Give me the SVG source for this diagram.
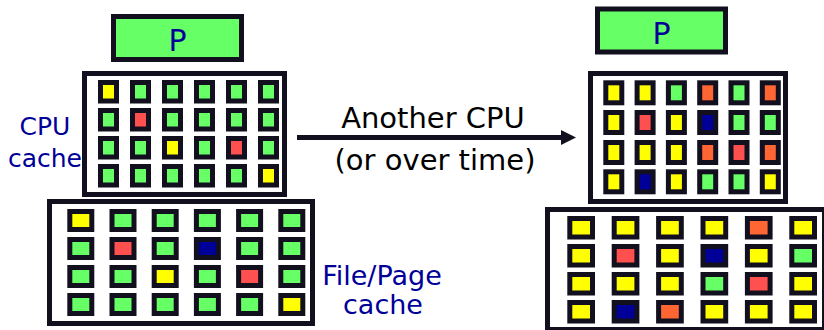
<svg xmlns="http://www.w3.org/2000/svg" width="824" height="330" viewBox="0 0 824 330">
<style>
.box{fill:#ffffff;stroke:#12101f;stroke-width:5}
.pbox{fill:#66ff66;stroke:#12101f;stroke-width:5}
.c{stroke:#12101f;stroke-width:5}
.g{fill:#66ff66}.y{fill:#ffff00}.r{fill:#ff5050}.o{fill:#ff6633}.b{fill:#000099}
.lbl{font-family:"DejaVu Sans","Liberation Sans",sans-serif;fill:#000099;text-anchor:middle}
.arr{font-family:"DejaVu Sans","Liberation Sans",sans-serif;fill:#000000;text-anchor:middle;font-size:29px}
</style>
<defs>
<marker id="ah" markerUnits="userSpaceOnUse" markerWidth="16" markerHeight="16" refX="0" refY="8" orient="auto" viewBox="0 0 16 16">
<polygon points="0,0.5 15,8 0,15.5" fill="#12101f"/>
</marker>
</defs>

<g id="p-left">
<rect class="pbox" x="113.5" y="16.5" width="128" height="43"/>
<text class="lbl" x="177.5" y="51" font-size="30">P</text>
</g>

<g id="cpu-cache-left">
<rect class="box" x="84.5" y="73.5" width="200" height="121"/>
<g class="c">
<rect class="y" x="100.5" y="82.5" width="16" height="18.5"/><rect class="g" x="132.5" y="82.5" width="16" height="18.5"/><rect class="g" x="164.5" y="82.5" width="16" height="18.5"/><rect class="g" x="196.5" y="82.5" width="16" height="18.5"/><rect class="g" x="228.5" y="82.5" width="16" height="18.5"/><rect class="g" x="260.5" y="82.5" width="16" height="18.5"/>
<rect class="g" x="100.5" y="110.5" width="16" height="18.5"/><rect class="r" x="132.5" y="110.5" width="16" height="18.5"/><rect class="g" x="164.5" y="110.5" width="16" height="18.5"/><rect class="g" x="196.5" y="110.5" width="16" height="18.5"/><rect class="g" x="228.5" y="110.5" width="16" height="18.5"/><rect class="g" x="260.5" y="110.5" width="16" height="18.5"/>
<rect class="g" x="100.5" y="138.5" width="16" height="18.5"/><rect class="g" x="132.5" y="138.5" width="16" height="18.5"/><rect class="y" x="164.5" y="138.5" width="16" height="18.5"/><rect class="g" x="196.5" y="138.5" width="16" height="18.5"/><rect class="r" x="228.5" y="138.5" width="16" height="18.5"/><rect class="g" x="260.5" y="138.5" width="16" height="18.5"/>
<rect class="g" x="100.5" y="166.5" width="16" height="18.5"/><rect class="g" x="132.5" y="166.5" width="16" height="18.5"/><rect class="g" x="164.5" y="166.5" width="16" height="18.5"/><rect class="g" x="196.5" y="166.5" width="16" height="18.5"/><rect class="g" x="228.5" y="166.5" width="16" height="18.5"/><rect class="y" x="260.5" y="166.5" width="16" height="18.5"/>
</g>
<text class="lbl" x="45" y="135" font-size="25">CPU</text>
<text class="lbl" x="45" y="167" font-size="25">cache</text>
</g>

<g id="file-cache-left">
<rect class="box" x="49.5" y="201.5" width="263" height="122"/>
<g class="c">
<rect class="y" x="69.8" y="211.5" width="22" height="18"/><rect class="g" x="112" y="211.5" width="22" height="18"/><rect class="g" x="154.2" y="211.5" width="22" height="18"/><rect class="g" x="196.4" y="211.5" width="22" height="18"/><rect class="g" x="238.6" y="211.5" width="22" height="18"/><rect class="g" x="280.8" y="211.5" width="22" height="18"/>
<rect class="g" x="69.8" y="239.5" width="22" height="18"/><rect class="r" x="112" y="239.5" width="22" height="18"/><rect class="g" x="154.2" y="239.5" width="22" height="18"/><rect class="b" x="196.4" y="239.5" width="22" height="18"/><rect class="g" x="238.6" y="239.5" width="22" height="18"/><rect class="g" x="280.8" y="239.5" width="22" height="18"/>
<rect class="g" x="69.8" y="267.5" width="22" height="18"/><rect class="g" x="112" y="267.5" width="22" height="18"/><rect class="y" x="154.2" y="267.5" width="22" height="18"/><rect class="g" x="196.4" y="267.5" width="22" height="18"/><rect class="r" x="238.6" y="267.5" width="22" height="18"/><rect class="g" x="280.8" y="267.5" width="22" height="18"/>
<rect class="g" x="69.8" y="295.5" width="22" height="18"/><rect class="g" x="112" y="295.5" width="22" height="18"/><rect class="g" x="154.2" y="295.5" width="22" height="18"/><rect class="g" x="196.4" y="295.5" width="22" height="18"/><rect class="g" x="238.6" y="295.5" width="22" height="18"/><rect class="y" x="280.8" y="295.5" width="22" height="18"/>
</g>
<text class="lbl" x="382" y="285" font-size="27">File/Page</text>
<text class="lbl" x="383" y="314" font-size="27">cache</text>
</g>

<g id="p-right">
<rect class="pbox" x="597.5" y="9" width="128" height="43"/>
<text class="lbl" x="661.5" y="44" font-size="30">P</text>
</g>

<g id="cpu-cache-right">
<rect class="box" x="590.5" y="73.5" width="195" height="128"/>
<g class="c">
<rect class="y" x="605.8" y="82.8" width="16" height="20"/><rect class="y" x="637.1" y="82.8" width="16" height="20"/><rect class="g" x="668.4" y="82.8" width="16" height="20"/><rect class="o" x="699.7" y="82.8" width="16" height="20"/><rect class="g" x="731" y="82.8" width="16" height="20"/><rect class="o" x="762.3" y="82.8" width="16" height="20"/>
<rect class="y" x="605.8" y="112.5" width="16" height="20"/><rect class="r" x="637.1" y="112.5" width="16" height="20"/><rect class="y" x="668.4" y="112.5" width="16" height="20"/><rect class="b" x="699.7" y="112.5" width="16" height="20"/><rect class="g" x="731" y="112.5" width="16" height="20"/><rect class="g" x="762.3" y="112.5" width="16" height="20"/>
<rect class="y" x="605.8" y="142.5" width="16" height="20"/><rect class="y" x="637.1" y="142.5" width="16" height="20"/><rect class="y" x="668.4" y="142.5" width="16" height="20"/><rect class="o" x="699.7" y="142.5" width="16" height="20"/><rect class="r" x="731" y="142.5" width="16" height="20"/><rect class="o" x="762.3" y="142.5" width="16" height="20"/>
<rect class="y" x="605.8" y="171.8" width="16" height="20"/><rect class="b" x="637.1" y="171.8" width="16" height="20"/><rect class="y" x="668.4" y="171.8" width="16" height="20"/><rect class="g" x="699.7" y="171.8" width="16" height="20"/><rect class="g" x="731" y="171.8" width="16" height="20"/><rect class="y" x="762.3" y="171.8" width="16" height="20"/>
</g>
</g>

<g id="file-cache-right">
<rect class="box" x="547.5" y="209.5" width="277" height="120"/>
<g class="c">
<rect class="y" x="569.8" y="218.5" width="22.7" height="18.5"/><rect class="y" x="614.2" y="218.5" width="22.7" height="18.5"/><rect class="y" x="658.6" y="218.5" width="22.7" height="18.5"/><rect class="y" x="703" y="218.5" width="22.7" height="18.5"/><rect class="o" x="747.4" y="218.5" width="22.7" height="18.5"/><rect class="y" x="791.8" y="218.5" width="22.7" height="18.5"/>
<rect class="y" x="569.8" y="246.5" width="22.7" height="18.5"/><rect class="r" x="614.2" y="246.5" width="22.7" height="18.5"/><rect class="y" x="658.6" y="246.5" width="22.7" height="18.5"/><rect class="b" x="703" y="246.5" width="22.7" height="18.5"/><rect class="y" x="747.4" y="246.5" width="22.7" height="18.5"/><rect class="g" x="791.8" y="246.5" width="22.7" height="18.5"/>
<rect class="y" x="569.8" y="274.5" width="22.7" height="18.5"/><rect class="y" x="614.2" y="274.5" width="22.7" height="18.5"/><rect class="y" x="658.6" y="274.5" width="22.7" height="18.5"/><rect class="g" x="703" y="274.5" width="22.7" height="18.5"/><rect class="r" x="747.4" y="274.5" width="22.7" height="18.5"/><rect class="y" x="791.8" y="274.5" width="22.7" height="18.5"/>
<rect class="y" x="569.8" y="302.5" width="22.7" height="18.5"/><rect class="b" x="614.2" y="302.5" width="22.7" height="18.5"/><rect class="o" x="658.6" y="302.5" width="22.7" height="18.5"/><rect class="y" x="703" y="302.5" width="22.7" height="18.5"/><rect class="y" x="747.4" y="302.5" width="22.7" height="18.5"/><rect class="y" x="791.8" y="302.5" width="22.7" height="18.5"/>
</g>
</g>

<g id="connectors">
<line x1="297" y1="137.5" x2="561" y2="137.5" stroke="#12101f" stroke-width="5" marker-end="url(#ah)"/>
<text class="arr" x="433" y="128">Another CPU</text>
<text class="arr" x="435" y="170">(or over time)</text>
</g>
</svg>
